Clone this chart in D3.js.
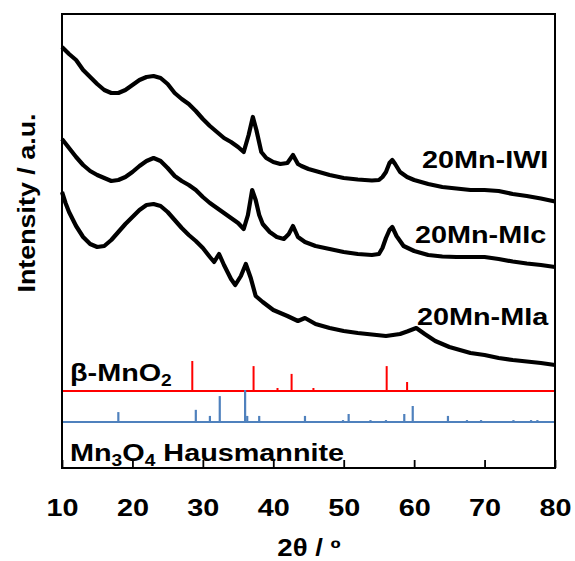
<!DOCTYPE html>
<html><head><meta charset="utf-8">
<script src="https://cdn.jsdelivr.net/npm/d3@7"></script>
<style>
body{margin:0;background:#fff}
text{font-family:"Liberation Sans",Arial,sans-serif;font-weight:bold;fill:#000}
</style>
</head><body>
<svg id="chart" width="575" height="561"></svg>
<script>
// ---- data (2θ in degrees, intensity in a.u.) ----
const xTicks = [10, 20, 30, 40, 50, 60, 70, 80];

const IWI = [[10,421],[11,414],[12,408],[13,398],[14,391],[15,384],[16,378],[17,375],[18,375],[19,378],[20,383],[21,388],[22,391],[23,392],[24,390],[25,384],[26,375],[27,369],[28,364],[29,357],[30,349],[31,342],[32,336],[33,330],[34,326],[35,321],[35.8,316],[36.5,333],[37.1,351],[37.6,338],[38.3,316],[39,310],[40,306],[41,304],[42,305],[42.8,313],[43.5,304],[44,302],[45,299],[46,297],[48,293],[50,290],[52,288.5],[54,287.5],[55,288],[55.5,291],[56,296],[56.5,305],[56.9,308],[57.3,304],[58,296],[59,291],[60,288],[62,284],[64,281],[66,279.5],[68,278],[70,278],[72,277],[74,274],[76,272],[78,269.5],[80,266.5]];

const MIc = [[10,329],[11,320],[12,311],[13,303],[14,297],[15,293],[16,290],[17,287],[18,288],[19,291],[20,296],[21,302],[22,307],[23,310],[24,307],[25,300],[26,292],[27,287],[28,283],[29,278],[30,271],[31,265],[32,260],[33,255],[34,250],[35,245],[35.8,239],[36.4,253],[37.0,278],[37.5,268],[38.0,253],[38.5,244],[39.5,236],[40.5,231],[41.5,229],[42.2,234],[42.8,242],[43.5,231],[44.5,226],[46,222],[48,219],[50,216],[52,214],[54,213],[55,214],[55.5,220],[56,230],[56.5,238],[56.9,241],[57.5,232],[58.5,222],[60,217],[62,213],[64,211.5],[66,211],[68,211],[70,211],[72,209],[74,206.5],[76,204.5],[78,203],[80,201]];

const MIa = [[10,276],[10.5,265],[11,256],[12,242],[13,231],[14,224],[15,221],[16,222],[17,228],[18,236],[19,244],[20,251],[21,258],[22,263],[23,264],[24,262],[25,256],[26,248],[27,240],[28,233],[29,227],[30,220],[31,211],[31.6,206],[32.3,214],[33,203],[34,189],[34.6,183],[35.4,192],[36.1,204],[36.8,190],[37.5,172],[38.5,166],[40,158],[42,152],[43.5,147],[44.5,150],[46,144],[48,140],[50,137],[52,135],[54,133.5],[56,132],[58,134],[59,136.5],[60.3,140],[61.5,134],[63,127],[65,121],[68,115],[70,113],[72,110],[74,108],[76,106.5],[78,105],[80,103]];

// reference patterns: positions (2θ) and relative intensities (%)
const MnO2_pos = [28.5, 37.2, 40.6, 42.6, 45.7, 56.1, 59.0];
const MnO2_rel = [100, 83, 10, 57, 10, 83, 30];
const Mn3O4_pos = [18.0, 29.0, 31.0, 32.4, 36.0, 36.3, 38.0, 44.5, 49.9, 50.7, 53.8, 56.0, 58.6, 59.8, 64.8, 67.5, 69.5, 74.1, 76.6, 77.5];
const Mn3O4_rel = [31, 38, 19, 81, 100, 19, 19, 19, 6, 25, 6, 6, 25, 50, 19, 6, 6, 6, 6, 6];

const seriesLabels = ["20Mn-IWI", "20Mn-MIc", "20Mn-MIa"];

// ---- layout ----
const L = 62, R = 555, T = 14, B = 468;
const SX = 1.2; // horizontal glyph stretch of the original text
const svg = d3.select("#chart");
const x = d3.scaleLinear().domain([10, 80]).range([L, R]);
const y = d3.scaleLinear().domain([0, B - T]).range([B, T]);

const MnO2_base = 77, MnO2_k = 0.30;
const Mn3O4_base = 46, Mn3O4_k = 0.32;

// curves
const line = d3.line().x(d => x(d[0])).y(d => y(d[1]));
[IWI, MIc, MIa].forEach(s => {
  svg.append("path").attr("d", line(s)).attr("fill", "none")
    .attr("stroke", "#000").attr("stroke-width", 4.2).attr("stroke-linejoin", "round");
});

// MnO2 reference
svg.append("line").attr("x1", x(10)).attr("x2", x(80))
  .attr("y1", y(MnO2_base)).attr("y2", y(MnO2_base))
  .attr("stroke", "#ff0000").attr("stroke-width", 2.2);
svg.selectAll(".mno2").data(MnO2_pos).enter().append("line")
  .attr("x1", d => x(d)).attr("x2", d => x(d))
  .attr("y1", y(MnO2_base)).attr("y2", (d, i) => y(MnO2_base + MnO2_rel[i] * MnO2_k))
  .attr("stroke", "#ff0000").attr("stroke-width", 2);

// Mn3O4 reference
svg.append("line").attr("x1", x(10)).attr("x2", x(80))
  .attr("y1", y(Mn3O4_base)).attr("y2", y(Mn3O4_base))
  .attr("stroke", "#4f81bd").attr("stroke-width", 2);
svg.selectAll(".mn3o4").data(Mn3O4_pos).enter().append("line")
  .attr("x1", d => x(d)).attr("x2", d => x(d))
  .attr("y1", y(Mn3O4_base)).attr("y2", (d, i) => y(Mn3O4_base + Mn3O4_rel[i] * Mn3O4_k))
  .attr("stroke", "#4f81bd").attr("stroke-width", 2.2);

// frame
svg.append("rect").attr("x", L).attr("y", T).attr("width", R - L).attr("height", B - T)
  .attr("fill", "none").attr("stroke", "#000").attr("stroke-width", 2);

// x axis
const ax = svg.append("g").attr("transform", `translate(0,${B})`)
  .call(d3.axisBottom(x).tickValues(xTicks).tickSizeInner(-8).tickSizeOuter(0).tickPadding(31).tickFormat(d3.format("d")));
ax.select(".domain").remove();
ax.selectAll(".tick line").attr("stroke", "#000").attr("stroke-width", 1.8);
ax.selectAll(".tick text").attr("font-size", 24).attr("font-family", null)
  .attr("transform", `scale(${SX},1)`);

function label(tx, ty, size, anchor, extra) {
  return svg.append("text")
    .attr("transform", `translate(${tx},${ty}) ${extra || ""} scale(${SX},1)`)
    .attr("text-anchor", anchor).attr("font-size", size);
}

// axis titles
label(309, 556, 23, "middle").text("2θ / º");
svg.append("text").attr("transform", "translate(35,203) rotate(-90) scale(1.12,1)")
  .attr("text-anchor", "middle").attr("font-size", 24).text("Intensity / a.u.");

// series labels
const labelPos = [[422, 168], [415, 243], [417, 325]];
seriesLabels.forEach((t, i) => {
  label(labelPos[i][0], labelPos[i][1], 24, "start").text(t);
});

// reference labels
const t1 = label(70, 381, 24, "start");
t1.append("tspan").text("β-MnO");
t1.append("tspan").attr("font-size", 16).attr("dy", 5).text("2");

const t2 = label(70, 461, 24, "start");
t2.append("tspan").text("Mn");
t2.append("tspan").attr("font-size", 16).attr("dy", 5).text("3");
t2.append("tspan").attr("dy", -5).text("O");
t2.append("tspan").attr("font-size", 16).attr("dy", 5).text("4");
t2.append("tspan").attr("dy", -5).text(" Hausmannite");
</script>
</body></html>
